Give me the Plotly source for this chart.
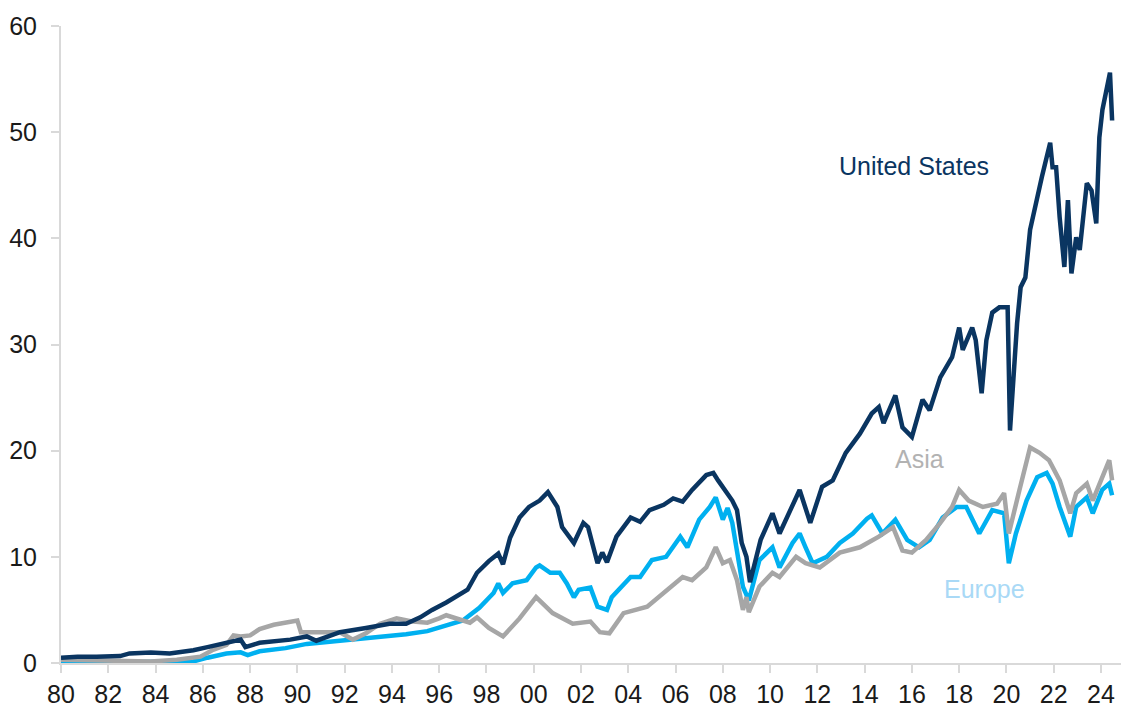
import plotly.graph_objects as go

# ---------------- data ----------------
us_years = [1980.0, 1980.7, 1981.5, 1982.5, 1982.9, 1983.8, 1984.6, 1985.6, 1986.2, 1987.0,
            1987.6, 1987.8, 1988.4, 1989.7, 1990.4, 1990.8, 1991.8, 1992.9, 1993.9, 1994.6,
            1995.2, 1995.7, 1996.3, 1997.2, 1997.6, 1998.1, 1998.5, 1998.7, 1999.0, 1999.4,
            1999.8, 2000.25, 2000.6, 2001.0, 2001.2, 2001.7, 2002.1, 2002.3, 2002.6, 2002.7,
            2002.9, 2003.1, 2003.5, 2004.1, 2004.5, 2004.9, 2005.5, 2005.9, 2006.3, 2006.7,
            2007.3, 2007.6, 2007.8, 2008.2, 2008.4, 2008.6, 2008.8, 2009.0, 2009.15, 2009.6,
            2010.1, 2010.4, 2010.95, 2011.25, 2011.7, 2012.2, 2012.65, 2012.9, 2013.2, 2013.8,
            2014.3, 2014.6, 2014.8, 2015.3, 2015.6, 2016.0, 2016.45, 2016.75, 2017.2, 2017.7,
            2018.0, 2018.15, 2018.55, 2018.7, 2018.95, 2019.15, 2019.4, 2019.7, 2020.05, 2020.15,
            2020.3, 2020.45, 2020.6, 2020.8, 2021.0, 2021.3, 2021.5, 2021.85, 2021.95, 2022.1,
            2022.25, 2022.45, 2022.6, 2022.75, 2022.95, 2023.1, 2023.4, 2023.6, 2023.8, 2023.93,
            2024.06, 2024.38, 2024.47]
us_values = [0.5, 0.6, 0.6, 0.65, 0.9, 1.0, 0.9, 1.2, 1.5, 1.9,
             2.2, 1.5, 1.9, 2.2, 2.5, 2.1, 2.9, 3.3, 3.7, 3.7,
             4.3, 5.0, 5.7, 6.9, 8.5, 9.6, 10.3, 9.3, 11.8, 13.7,
             14.7, 15.3, 16.1, 14.7, 12.8, 11.3, 13.2, 12.8, 10.0, 9.4,
             10.4, 9.5, 11.9, 13.7, 13.3, 14.4, 14.9, 15.5, 15.2, 16.3,
             17.7, 17.9, 17.2, 16.0, 15.3, 14.4, 11.3, 10.0, 7.6, 11.6,
             14.1, 12.2, 14.8, 16.3, 13.2, 16.6, 17.2, 18.5, 19.8, 21.6,
             23.5, 24.1, 22.6, 25.2, 22.2, 21.3, 24.8, 23.8, 26.9, 28.8,
             31.6, 29.5, 31.6, 30.4, 25.4, 30.4, 33.0, 33.5, 33.5, 21.9,
             27.6, 32.0, 35.4, 36.3, 40.8, 43.9, 45.8, 49.0, 46.7, 46.7,
             42.0, 37.3, 43.6, 36.7, 40.1, 38.9, 45.2, 44.5, 41.4, 49.5,
             52.1, 55.6, 51.1]

eu_years = [1980.0, 1983.9, 1985.0, 1985.6, 1986.2, 1987.0, 1987.6, 1987.9, 1988.4, 1989.5,
            1990.4, 1991.8, 1993.2, 1994.6, 1995.5, 1996.3, 1997.0, 1997.7, 1998.3, 1998.5,
            1998.7, 1999.1, 1999.7, 2000.1, 2000.25, 2000.7, 2001.1, 2001.4, 2001.7, 2001.9,
            2002.4, 2002.7, 2003.1, 2003.3, 2004.1, 2004.5, 2005.0, 2005.6, 2006.2, 2006.5,
            2007.0, 2007.45, 2007.7, 2008.0, 2008.2, 2008.4, 2008.6, 2008.85, 2009.1, 2009.55,
            2010.1, 2010.4, 2010.95, 2011.25, 2011.5, 2011.8, 2012.4, 2012.95, 2013.5, 2014.1,
            2014.3, 2014.75, 2015.3, 2015.8, 2016.3, 2016.75, 2017.3, 2017.9, 2018.3, 2018.85,
            2019.4, 2019.9, 2020.1, 2020.4, 2020.85, 2021.3, 2021.7, 2021.95, 2022.25, 2022.7,
            2022.95, 2023.4, 2023.65, 2024.05, 2024.35, 2024.47]
eu_values = [0.05, 0.05, 0.1, 0.15, 0.5, 0.9, 1.0, 0.75, 1.1, 1.4,
             1.8, 2.1, 2.3, 2.7, 3.0, 3.5, 4.0, 5.2, 6.6, 7.5,
             6.6, 7.5, 7.8, 9.0, 9.2, 8.5, 8.5, 7.5, 6.2, 6.9,
             7.1, 5.3, 5.0, 6.2, 8.1, 8.1, 9.7, 10.0, 11.9, 10.9,
             13.5, 14.7, 15.6, 13.5, 14.6, 13.2, 10.4, 7.2, 5.9, 9.7,
             10.9, 9.0, 11.3, 12.2, 10.9, 9.4, 10.0, 11.3, 12.2, 13.6,
             13.9, 12.2, 13.5, 11.6, 10.9, 11.6, 13.7, 14.7, 14.7, 12.2,
             14.4, 14.1, 9.4, 12.2, 15.3, 17.5, 17.9, 16.9, 14.7, 11.9,
             14.7, 15.6, 14.1, 16.3, 16.9, 15.8]

asia_years = [1980.0, 1982.0, 1983.8, 1984.9, 1985.9, 1986.4, 1987.0, 1987.3, 1987.6, 1988.0,
              1988.4, 1989.0, 1989.8, 1990.0, 1990.15, 1990.8, 1991.8, 1992.35, 1992.9, 1993.5,
              1994.2, 1994.9, 1995.5, 1996.0, 1996.3, 1997.3, 1997.6, 1998.1, 1998.7, 1999.4,
              2000.1, 2000.8, 2001.65, 2002.4, 2002.8, 2003.2, 2003.8, 2004.8, 2005.6, 2006.3,
              2006.7, 2007.3, 2007.7, 2008.0, 2008.3, 2008.6, 2008.85, 2009.0, 2009.1, 2009.55,
              2010.1, 2010.4, 2011.1, 2011.5, 2012.1, 2012.95, 2013.8, 2014.6, 2015.2, 2015.6,
              2016.0, 2016.6, 2017.2, 2017.7, 2018.0, 2018.4, 2019.0, 2019.6, 2019.9, 2020.1,
              2020.55, 2021.0, 2021.4, 2021.8, 2022.25, 2022.7, 2022.95, 2023.4, 2023.65, 2024.05,
              2024.35, 2024.47]
asia_values = [0.3, 0.25, 0.15, 0.3, 0.6, 1.2, 1.7, 2.6, 2.5, 2.6,
               3.2, 3.6, 3.9, 4.0, 2.9, 2.9, 2.9, 2.2, 2.8, 3.7,
               4.2, 3.9, 3.8, 4.2, 4.5, 3.8, 4.3, 3.3, 2.5, 4.2,
               6.2, 4.7, 3.7, 3.9, 2.9, 2.8, 4.7, 5.3, 6.8, 8.1,
               7.8, 9.0, 10.9, 9.4, 9.7, 7.8, 5.0, 6.2, 4.8, 7.2,
               8.5, 8.1, 10.0, 9.4, 9.0, 10.4, 10.9, 11.9, 12.8, 10.6,
               10.4, 11.6, 13.2, 14.7, 16.3, 15.3, 14.7, 15.0, 16.0, 12.2,
               16.3, 20.3, 19.8, 19.1, 17.2, 14.1, 16.0, 16.9, 15.3, 17.5,
               19.1, 17.2]

tick_years = list(range(1980, 2025, 2))
tick_labels = ["80", "82", "84", "86", "88", "90", "92", "94", "96", "98", "00", "02",
               "04", "06", "08", "10", "12", "14", "16", "18", "20", "22", "24"]
y_ticks = [0, 10, 20, 30, 40, 50, 60]

# ---------------- styles ----------------
C_US = "#0a3561"
C_EU = "#00b0f0"
C_ASIA = "#a6a6a6"
AXIS = "#d9d9d9"
FONT = "Liberation Sans, Arial, sans-serif"
TXT = "#1a1a1a"

fig = go.Figure()
fig.add_trace(go.Scatter(x=eu_years, y=eu_values, mode="lines", name="Europe",
                         line=dict(color=C_EU, width=4.5)))
fig.add_trace(go.Scatter(x=asia_years, y=asia_values, mode="lines", name="Asia",
                         line=dict(color=C_ASIA, width=4.5)))
fig.add_trace(go.Scatter(x=us_years, y=us_values, mode="lines", name="United States",
                         line=dict(color=C_US, width=4.5)))

fig.add_annotation(x=2016.1, y=46.8, text="United States", showarrow=False,
                   font=dict(family=FONT, size=25, color=C_US), xanchor="center", yanchor="middle")
fig.add_annotation(x=2016.3, y=19.2, text="Asia", showarrow=False,
                   font=dict(family=FONT, size=25, color="#b2b2b2"), xanchor="center", yanchor="middle")
fig.add_annotation(x=2019.05, y=7.0, text="Europe", showarrow=False,
                   font=dict(family=FONT, size=25, color="#a9d9f6"), xanchor="center", yanchor="middle")

# the page body adds an 8px offset, so the figure is sized 8px smaller
fig.update_layout(
    width=1121, height=701,
    margin=dict(l=53, r=2, t=18, b=46),
    paper_bgcolor="white", plot_bgcolor="white",
    showlegend=False,
    font=dict(family=FONT, size=25, color=TXT),
)
fig.update_xaxes(range=[1980, 2025.1], tickmode="array", tickvals=tick_years, ticktext=tick_labels,
                 showgrid=False, zeroline=False, showline=True, linecolor=AXIS, linewidth=2,
                 ticks="outside", ticklen=8, tickwidth=2, tickcolor=AXIS, automargin=False,
                 tickfont=dict(family=FONT, size=25, color=TXT))
fig.update_yaxes(range=[0, 60], tickmode="array", tickvals=y_ticks,
                 showgrid=False, zeroline=False, showline=True, linecolor=AXIS, linewidth=2,
                 ticks="outside", ticklen=8, tickwidth=2, tickcolor=AXIS, ticklabelstandoff=9,
                 automargin=False, tickfont=dict(family=FONT, size=25, color=TXT))

fig.write_html("out.html")
